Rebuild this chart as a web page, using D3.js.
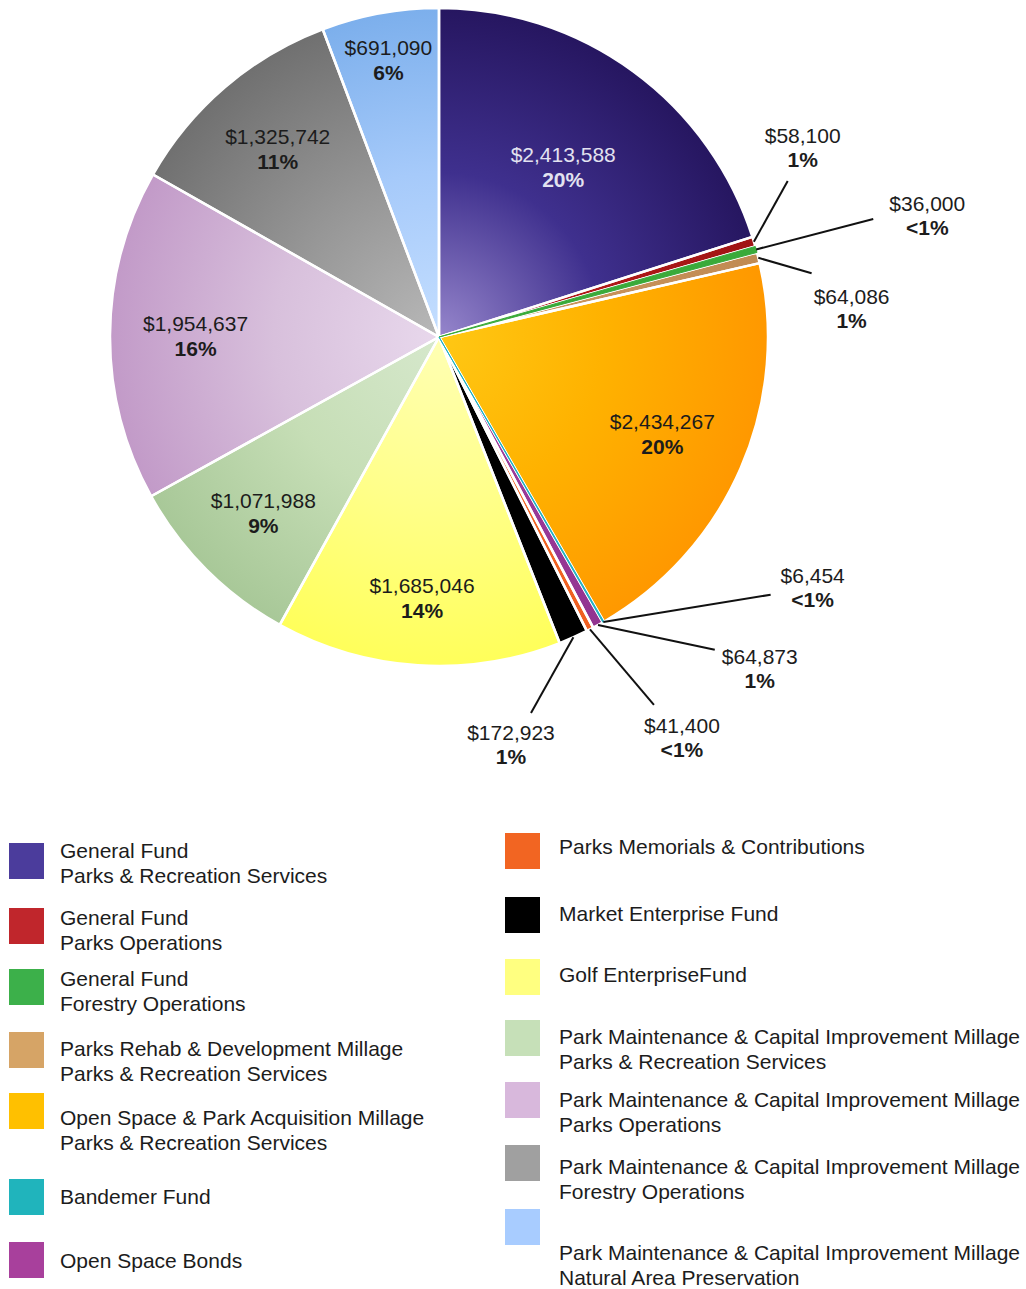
<!DOCTYPE html>
<html>
<head>
<meta charset="utf-8">
<script src="https://cdn.jsdelivr.net/npm/d3@7"></script>
<style>
  body { margin: 0; background: #fff; }
  svg { display: block; font-family: "Liberation Sans", Arial, sans-serif; }
</style>
</head>
<body>
<svg id="chart" width="1026" height="1289"></svg>
<script>
// funds in the order the slices run, clockwise from 12 o'clock
const funds = [
  ["General Fund", "Parks & Recreation Services"],
  ["General Fund", "Parks Operations"],
  ["General Fund", "Forestry Operations"],
  ["Parks Rehab & Development Millage", "Parks & Recreation Services"],
  ["Open Space & Park Acquisition Millage", "Parks & Recreation Services"],
  ["Bandemer Fund"],
  ["Open Space Bonds"],
  ["Parks Memorials & Contributions"],
  ["Market Enterprise Fund"],
  ["Golf EnterpriseFund"],
  ["Park Maintenance & Capital Improvement Millage", "Parks & Recreation Services"],
  ["Park Maintenance & Capital Improvement Millage", "Parks Operations"],
  ["Park Maintenance & Capital Improvement Millage", "Forestry Operations"],
  ["", "Park Maintenance & Capital Improvement Millage", "Natural Area Preservation"],
];
const amounts = [2413588, 58100, 36000, 64086, 2434267, 6454, 64873, 41400, 172923, 1685046, 1071988, 1954637, 1325742, 691090];
const pctLabels = ["20%", "1%", "<1%", "1%", "20%", "<1%", "1%", "<1%", "1%", "14%", "9%", "16%", "11%", "6%"];

// colours: legend swatch, slice gradient inner / mid / outer
const swatchColours = ["#4b3c9c", "#c0262c", "#3cb04a", "#d6a466", "#ffc000", "#20b4bc", "#a8409c",
  "#f26522", "#000000", "#ffff80", "#c6e0b8", "#d8b8dc", "#a0a0a0", "#a8ccff"];
const sliceColours = [
  ["#9686cc", "#3f308e", "#261660"],
  ["#b01818", "#b01818", "#a01414"],
  ["#3aaa3a", "#3aaa3a", "#36a036"],
  ["#d09a60", "#c8925a", "#c08a52"],
  ["#ffc814", "#ffb200", "#ff9800"],
  ["#20b8c4", "#20b0c0", "#20a8b8"],
  ["#a040a0", "#9a3a98", "#923490"],
  ["#f26522", "#f26522", "#f05f20"],
  ["#000000", "#000000", "#000000"],
  ["#ffffb4", "#ffff8a", "#ffff5a"],
  ["#d6e8cc", "#c6deb6", "#a8c898"],
  ["#e8d8ec", "#d8c0dc", "#c29ac8"],
  ["#b8b8b8", "#959595", "#707070"],
  ["#c4deff", "#a6cafa", "#7cafec"],
];

const margins = { cx: 439, cy: 337, r: 329 };

// inside labels: radius fraction (null = outside label with leader)
const labelRadius = [0.64, null, null, null, 0.74, null, null, null, null, 0.795, 0.755, 0.74, 0.754, 0.856];
// outside labels: leader end [angle deg, radius], text offset [dx, dy] from leader end
const leaders = {
  1: { end: [65.9, 382], text: [15, -38] },
  2: { end: [74.8, 450], text: [54, -8] },
  3: { end: [80.3, 378], text: [40, 31] },
  5: { end: [127.85, 420], text: [42, -12] },
  6: { end: [138.6, 417], text: [45, 14] },
  7: { end: [149.7, 426], text: [28, 28] },
  8: { end: [166.25, 387], text: [-20, 27] },
};

// legend rows: swatch x, text x, swatch top, first text baseline
const legendLayout = [
  [9, 60, 843, 858], [9, 60, 908, 925], [9, 60, 969, 986], [9, 60, 1032, 1056], [9, 60, 1093, 1125],
  [9, 60, 1179, 1204], [9, 60, 1242, 1268],
  [505, 559, 833, 854], [505, 559, 897, 921], [505, 559, 959, 982], [505, 559, 1020, 1044],
  [505, 559, 1082, 1107], [505, 559, 1145, 1174], [505, 559, 1209, 1235],
];

const fmt = d3.format("$,");
const polar = (deg, rad) => {
  const a = (deg * Math.PI) / 180;
  return [rad * Math.sin(a), -rad * Math.cos(a)];
};

const draw = () => {
  const svg = d3.select("#chart");
  const { cx, cy, r } = margins;
  const rows = amounts.map((v, i) => ({ i, value: v }));

  const pie = d3.pie().sort(null).value((d) => d.value);
  const arcs = pie(rows);
  const arc = d3.arc().innerRadius(0).outerRadius(r);

  const defs = svg.append("defs");
  defs
    .selectAll("radialGradient")
    .data(sliceColours)
    .join("radialGradient")
    .attr("id", (d, i) => `grad${i}`)
    .attr("gradientUnits", "userSpaceOnUse")
    .attr("cx", 0)
    .attr("cy", 0)
    .attr("r", r)
    .selectAll("stop")
    .data((d) => d.map((c, k) => ({ c, k })))
    .join("stop")
    .attr("offset", (d) => d.k / 2)
    .attr("stop-color", (d) => d.c);

  const g = svg.append("g").attr("transform", `translate(${cx},${cy})`);

  g.selectAll("path.slice")
    .data(arcs)
    .join("path")
    .attr("class", "slice")
    .attr("d", arc)
    .style("fill", (d) => `url(#grad${d.data.i})`);

  // white separators
  g.selectAll("path.sep")
    .data(arcs)
    .join("path")
    .attr("class", "sep")
    .attr("d", arc)
    .style("fill", "none")
    .style("stroke", "#fff")
    .style("stroke-width", 2.5)
    .style("stroke-linejoin", "round");

  // keep the tiny slices visible over the separators
  g.selectAll("path.tiny")
    .data(arcs.filter((d) => d.endAngle - d.startAngle < 0.02))
    .join("path")
    .attr("class", "tiny")
    .attr("d", arc)
    .style("fill", (d) => sliceColours[d.data.i][1])
    .style("stroke", (d) => sliceColours[d.data.i][1])
    .style("stroke-width", 1);

  // inside labels
  const inside = arcs.filter((d) => labelRadius[d.data.i] !== null);
  const insideText = g
    .selectAll("text.inside")
    .data(inside)
    .join("text")
    .attr("class", "inside")
    .attr("text-anchor", "middle")
    .style("font-size", "21px")
    .style("fill", (d) => (d.data.i === 0 ? "#e2e2f0" : "#1c1c1c"))
    .attr("transform", (d) => {
      const mid = ((d.startAngle + d.endAngle) / 2) * (180 / Math.PI);
      const [x, y] = polar(mid, r * labelRadius[d.data.i]);
      return `translate(${x},${y})`;
    });
  insideText.append("tspan").attr("x", 0).attr("y", -5).text((d) => fmt(d.data.value));
  insideText
    .append("tspan")
    .attr("x", 0)
    .attr("y", 20)
    .style("font-weight", "bold")
    .text((d) => pctLabels[d.data.i]);

  // outside labels with leader lines
  const outside = arcs.filter((d) => leaders[d.data.i]);
  g.selectAll("line.leader")
    .data(outside)
    .join("line")
    .attr("class", "leader")
    .each(function (d) {
      const mid = ((d.startAngle + d.endAngle) / 2) * (180 / Math.PI);
      const [x1, y1] = polar(mid, r);
      const [x2, y2] = polar(...leaders[d.data.i].end);
      d3.select(this).attr("x1", x1).attr("y1", y1).attr("x2", x2).attr("y2", y2);
    })
    .style("stroke", "#111")
    .style("stroke-width", 2);

  const outsideText = g
    .selectAll("text.outside")
    .data(outside)
    .join("text")
    .attr("class", "outside")
    .attr("text-anchor", "middle")
    .style("font-size", "21px")
    .style("fill", "#1c1c1c")
    .attr("transform", (d) => {
      const L = leaders[d.data.i];
      const [x, y] = polar(...L.end);
      return `translate(${x + L.text[0]},${y + L.text[1]})`;
    });
  outsideText.append("tspan").attr("x", 0).attr("y", 0).text((d) => fmt(d.data.value));
  outsideText
    .append("tspan")
    .attr("x", 0)
    .attr("y", 24)
    .style("font-weight", "bold")
    .text((d) => pctLabels[d.data.i]);

  // legend
  const legend = svg
    .append("g")
    .attr("class", "legend")
    .selectAll("g")
    .data(funds)
    .join("g");
  legend
    .append("rect")
    .attr("x", (d, i) => legendLayout[i][0])
    .attr("y", (d, i) => legendLayout[i][2])
    .attr("width", 35)
    .attr("height", 36)
    .style("fill", (d, i) => swatchColours[i]);
  legend
    .append("text")
    .style("font-size", "21px")
    .style("fill", "#1c1c1c")
    .selectAll("tspan")
    .data((d, i) => d.map((t, k) => ({ t, k, i })))
    .join("tspan")
    .attr("x", (d) => legendLayout[d.i][1])
    .attr("y", (d) => legendLayout[d.i][3] + d.k * 25)
    .text((d) => d.t);
};

draw();
</script>
</body>
</html>
